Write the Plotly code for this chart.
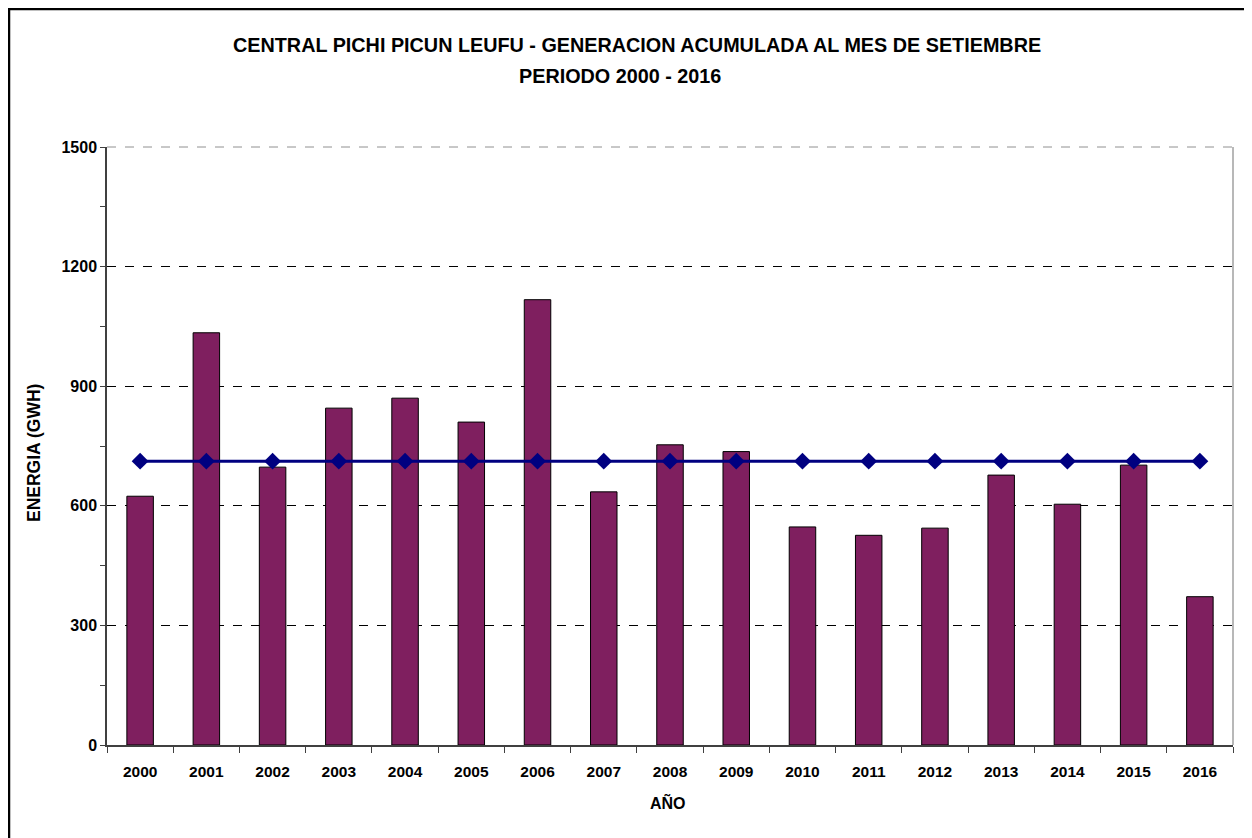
import plotly.graph_objects as go

years = [str(y) for y in range(2000, 2017)]
generation = [624, 1034, 697, 845, 870, 810, 1117, 635, 753, 736, 547, 526, 544, 677, 604, 702, 372]
average = [712] * len(years)

title_line1 = "CENTRAL PICHI PICUN LEUFU - GENERACION ACUMULADA AL MES DE SETIEMBRE"
title_line2 = "PERIODO 2000 - 2016"
y_title = "ENERGIA (GWH)"
x_title = "AÑO"

FONT = "Liberation Sans, Arial, sans-serif"

# page offset of the plot div (default body margin)
OFF = 8
W, H = 1252 - OFF, 838 - OFF
# plot area in page pixels
PL, PR, PT, PB = 107, 1233, 147, 745
L, R, T, B = PL - OFF, W - (PR - OFF), PT - OFF, H - (PB - OFF)
pw, ph = W - L - R, H - T - B


def px_x(page_x):
    return (page_x - OFF - L) / pw


def px_y(page_y):
    return (H - B - (page_y - OFF)) / ph


fig = go.Figure()
fig.add_trace(go.Bar(
    x=years, y=generation, width=0.4,
    marker=dict(color="#7f1f5f", line=dict(color="black", width=1)),
    showlegend=False,
))
fig.add_trace(go.Scatter(
    x=years, y=average, mode="lines+markers",
    line=dict(color="#000080", width=3),
    marker=dict(symbol="diamond", size=13, color="#000080"),
    showlegend=False, cliponaxis=False,
))

fig.update_layout(
    width=W, height=H,
    margin=dict(l=L, r=R, t=T, b=B),
    paper_bgcolor="white", plot_bgcolor="white",
    font=dict(family=FONT, color="black"),
    xaxis=dict(
        type="category",
        range=[-0.5, len(years) - 0.5],
        showline=True, linecolor="#404040", linewidth=1.5,
        ticks="outside", tickson="boundaries", ticklen=6, tickcolor="#404040",
        tickfont=dict(size=15.5, family=FONT, weight="bold"),
        ticklabelstandoff=12,
        showgrid=False,
    ),
    yaxis=dict(
        range=[0, 1500], dtick=300, tick0=0,
        showline=True, linecolor="#404040", linewidth=1.5,
        ticks="outside", ticklen=5, tickcolor="#404040",
        tickfont=dict(size=16, family=FONT, weight="bold"),
        showgrid=True, gridcolor="black", gridwidth=1, griddash="dash",
        zeroline=False,
        minor=dict(dtick=150, ticks="outside", ticklen=5, tickcolor="#404040", showgrid=False),
    ),
    shapes=[
        dict(type="line", xref="paper", yref="paper", x0=0, x1=1, y0=1, y1=1,
             line=dict(color="#909090", width=1, dash="dash")),
        dict(type="line", xref="paper", yref="paper", x0=1, x1=1, y0=0, y1=1,
             line=dict(color="#a0a0a0", width=1.5)),
        dict(type="line", xref="paper", yref="paper", x0=px_x(OFF), x1=px_x(1300), y0=px_y(OFF + 1), y1=px_y(OFF + 1),
             line=dict(color="black", width=2.5)),
        dict(type="line", xref="paper", yref="paper", x0=px_x(OFF + 1), x1=px_x(OFF + 1), y0=px_y(OFF), y1=px_y(900),
             line=dict(color="black", width=2.5)),
    ],
    annotations=[
        dict(text=title_line1, xref="paper", yref="paper", x=px_x(637), y=px_y(45),
             showarrow=False, xanchor="center", yanchor="middle",
             font=dict(size=19.8, family=FONT, weight="bold")),
        dict(text=title_line2, xref="paper", yref="paper", x=px_x(620), y=px_y(76),
             showarrow=False, xanchor="center", yanchor="middle",
             font=dict(size=19.8, family=FONT, weight="bold")),
        dict(text=y_title, xref="paper", yref="paper", x=px_x(34), y=px_y(453),
             showarrow=False, xanchor="center", yanchor="middle", textangle=-90,
             font=dict(size=17.5, family=FONT, weight="bold")),
        dict(text=x_title, xref="paper", yref="paper", x=px_x(668), y=px_y(802),
             showarrow=False, xanchor="center", yanchor="middle",
             font=dict(size=16, family=FONT, weight="bold")),
    ],
)

fig.write_html("out.html")
